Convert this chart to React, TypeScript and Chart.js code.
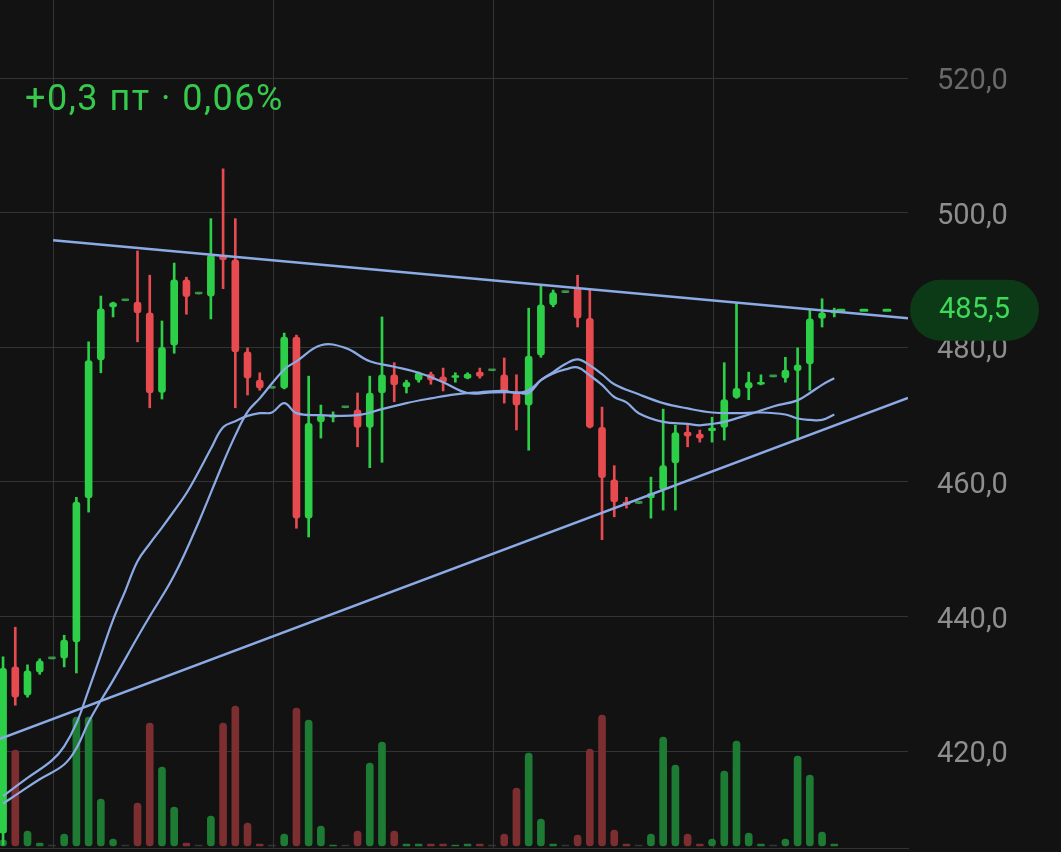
import React, { useEffect, useRef } from 'react';
import { Chart, registerables } from 'chart.js';

Chart.register(...registerables);

// ---- Candles (index = position on the time axis) ----
const opens = [407.8, 432.5, 428.3, 431.7, 433.7, 433.8, 436.2, 457.6, 478.1, 486.0, 486.9, 486.7, 485.1, 473.3, 480.3, 490.0, 487.9, 487.6, 493.6, 493.0, 479.3, 475.1, 473.9, 473.9, 481.5, 454.6, 468.9, 469.6, 471.0, 470.7, 468.1, 473.2, 475.9, 474.1, 475.1, 476.0, 475.6, 475.5, 475.4, 476.3, 476.5, 475.9, 473.2, 471.4, 478.8, 486.3, 488.1, 488.8, 484.3, 468.1, 460.3, 457.0, 456.8, 457.6, 458.8, 462.8, 467.4, 467.1, 467.6, 468.1, 472.5, 473.9, 474.5, 475.6, 475.4, 476.5, 477.5, 484.3, 485.1];
const highs = [434.0, 438.4, 432.8, 433.7, 433.7, 437.2, 457.7, 480.8, 487.6, 486.7, 486.9, 494.3, 490.7, 483.9, 492.5, 490.4, 487.9, 499.1, 506.5, 499.1, 479.9, 476.2, 473.9, 482.1, 481.8, 475.7, 471.4, 470.4, 471.0, 473.2, 475.7, 484.5, 477.7, 475.1, 476.3, 476.3, 476.9, 476.2, 476.2, 476.9, 476.5, 478.4, 475.9, 485.8, 489.2, 488.5, 488.1, 490.7, 488.5, 471.1, 462.4, 457.7, 456.8, 460.7, 470.8, 468.4, 468.4, 467.7, 469.6, 477.7, 486.6, 476.3, 475.9, 475.6, 478.5, 479.9, 485.5, 487.2, 485.8];
const lows = [406.0, 426.8, 428.0, 431.4, 433.7, 432.5, 431.6, 455.5, 476.2, 484.5, 486.9, 480.8, 471.0, 472.3, 479.1, 484.9, 487.9, 484.2, 488.7, 471.0, 472.9, 473.6, 473.9, 473.8, 453.1, 451.8, 466.5, 468.9, 471.0, 465.2, 462.1, 462.9, 471.9, 473.2, 474.8, 474.5, 473.5, 474.8, 475.3, 475.4, 476.5, 471.7, 467.7, 464.7, 478.5, 486.0, 488.1, 483.0, 468.0, 451.4, 454.8, 456.1, 456.8, 454.6, 455.8, 455.8, 465.2, 465.9, 465.9, 466.2, 472.4, 472.2, 474.4, 475.6, 474.8, 466.2, 473.6, 483.0, 484.5];
const closes = [432.3, 428.0, 431.9, 433.4, 433.7, 436.5, 457.0, 478.0, 485.7, 486.6, 486.9, 485.1, 473.2, 480.0, 490.0, 487.5, 487.9, 493.7, 493.0, 479.3, 475.4, 473.9, 473.9, 481.5, 454.6, 468.7, 469.9, 469.9, 471.0, 468.1, 473.2, 475.9, 474.4, 474.8, 476.2, 475.1, 474.8, 475.6, 476.0, 475.7, 476.5, 473.2, 471.4, 478.7, 486.3, 488.1, 488.1, 484.3, 468.1, 460.6, 457.0, 456.6, 456.8, 458.3, 462.4, 467.3, 466.8, 466.5, 468.0, 472.2, 473.9, 474.8, 474.8, 475.6, 476.6, 477.4, 484.2, 485.1, 485.5];
const volumes = [6, 96, 15, 3, 1, 12, 129, 129, 47, 7, 1, 43, 123, 79, 39, 3, 1, 30, 123, 140, 23, 2, 1, 12, 138, 126, 20, 1, 1, 15, 83, 104, 15, 2, 2, 2, 2, 1, 2, 2, 1, 12, 58, 93, 27, 2, 1, 11, 97, 131, 16, 2, 1, 12, 109, 81, 12, 2, 7, 75, 105, 13, 2, 1, 7, 90, 71, 14, 2];

// ---- Moving averages (candle index, value) ----
const maFastIdx = [0, 1, 3, 5, 6, 7, 8, 9, 11, 12, 14, 16, 18, 19, 20, 21, 23, 24, 26, 28, 30, 32, 34, 36, 38, 40, 42, 43, 44, 45, 46, 47, 48, 49, 50, 51, 52, 54, 56, 57, 58, 59, 61, 63, 65, 66, 67, 68];
const maFastVal = [412.2, 413.4, 415.8, 418.0, 420.4, 424.3, 427.5, 430.5, 436.9, 440.0, 446.1, 454.0, 462.8, 466.9, 470.4, 472.4, 476.7, 477.9, 480.3, 479.9, 477.9, 477.1, 476.2, 474.8, 473.2, 473.3, 473.3, 473.2, 475.1, 476.1, 476.7, 477.0, 475.8, 474.4, 472.6, 471.8, 470.2, 468.9, 468.6, 468.4, 468.6, 468.9, 470.0, 471.2, 472.1, 473.2, 474.4, 475.4];
const maSlowIdx = [0, 2, 4, 5, 6, 7, 8, 9, 10, 11, 12, 13, 14, 15, 16, 17, 18, 19, 20, 21, 22, 23, 24, 26, 29, 31, 33, 35, 37, 39, 41, 42, 43, 44, 45, 46, 47, 48, 49, 50, 52, 54, 56, 58, 60, 62, 64, 65, 66, 67, 68];
const maSlowVal = [413.3, 416.0, 418.6, 420.7, 424.1, 429.1, 434.3, 439.5, 443.8, 448.2, 450.8, 453.2, 455.7, 458.3, 461.5, 464.9, 468.1, 469.0, 469.8, 470.2, 470.3, 471.7, 470.2, 469.9, 469.9, 470.8, 471.7, 472.4, 473.0, 473.3, 473.5, 473.2, 473.6, 475.1, 476.3, 477.5, 478.2, 477.3, 476.0, 474.5, 473.0, 471.7, 470.9, 470.3, 470.2, 470.3, 470.0, 469.4, 469.2, 469.2, 470.0];

// ---- Trend lines (x in candle index units) ----
const resistanceX = [4.09, 74.03];
const resistanceY = [495.9, 484.3];
const supportX = [-0.25, 74.03];
const supportY = [421.8, 472.45];

// ---- Axes / labels ----
const yTicks = [420, 440, 460, 480, 500, 520];
const yTickLabels = ['420,0', '440,0', '460,0', '480,0', '500,0', '520,0'];
const xGridTicks = [4.1, 22.1, 40.1, 58.1];
const lastPrice = 485.5;
const lastPriceLabel = '485,5';
const priceLineX = [68.3, 72.8];
const changeText = '+0,3 пт · 0,06%';

const X_MIN = -0.25;
const X_MAX = 74.03;
const Y_MIN = 405.59;
const Y_MAX = 531.59;
const VOL_MIN = -2;
const VOL_MAX = 846;

const BG = '#121212';
const GRID = '#333333';
const UP = '#2ecf48';
const DOWN = '#e84b4f';
const DOJI = 'rgba(70, 190, 90, 0.75)';
const VUP = '#1e7b33';
const VDOWN = '#7c2e30';
const VFLAT = '#363636';
const BLUE = '#8cabe6';

const overlay = {
  id: 'overlay',
  beforeDraw(chart: any) {
    const ctx = chart.ctx;
    ctx.save();
    ctx.fillStyle = BG;
    ctx.fillRect(0, 0, chart.width, chart.height);
    ctx.restore();
  },
  afterDraw(chart: any) {
    const ctx = chart.ctx;
    const y = chart.scales.y.getPixelForValue(lastPrice);
    const left = chart.chartArea.right + 2;
    const w = 129;
    const h = 61;
    ctx.save();
    ctx.fillStyle = '#0c3a16';
    ctx.beginPath();
    ctx.roundRect(left, y - h / 2, w, h, h / 2);
    ctx.fill();
    ctx.fillStyle = '#3fd95a';
    ctx.font = '29px Roboto';
    ctx.textAlign = 'center';
    ctx.textBaseline = 'middle';
    ctx.fillText(lastPriceLabel, left + w / 2, y + 1);

    ctx.fillStyle = '#36c94c';
    ctx.font = '36px Roboto';
    try { (ctx as any).letterSpacing = '1.5px'; } catch (e) {}
    ctx.textAlign = 'left';
    ctx.textBaseline = 'alphabetic';
    ctx.fillText(changeText, 25, 110);
    ctx.restore();
  },
};

export default function App() {
  const ref = useRef<HTMLCanvasElement>(null);

  useEffect(() => {
    document.body.style.margin = '0';
    document.body.style.background = BG;
    const idx = opens.map((_, i) => i);
    const candleColor = (i: number) =>
      closes[i] === opens[i] ? DOJI : closes[i] > opens[i] ? UP : DOWN;
    const volColor = (i: number) =>
      closes[i] === opens[i] ? VFLAT : closes[i] > opens[i] ? VUP : VDOWN;

    Chart.defaults.font.family = 'Roboto';

    const chart = new Chart(ref.current!, {
      type: 'bar',
      data: {
        datasets: [
          {
            type: 'line',
            label: 'Сопротивление',
            data: resistanceX.map((x, k) => ({ x, y: resistanceY[k] })),
            borderColor: BLUE,
            borderWidth: 2.5,
            pointRadius: 0,
            order: 1,
          },
          {
            type: 'line',
            label: 'Поддержка',
            data: supportX.map((x, k) => ({ x, y: supportY[k] })),
            borderColor: BLUE,
            borderWidth: 2.5,
            pointRadius: 0,
            order: 1,
          },
          {
            type: 'line',
            label: 'MA быстрая',
            data: maFastIdx.map((x, k) => ({ x, y: maFastVal[k] })),
            borderColor: BLUE,
            borderWidth: 2.2,
            pointRadius: 0,
            tension: 0.4,
            order: 2,
          },
          {
            type: 'line',
            label: 'MA медленная',
            data: maSlowIdx.map((x, k) => ({ x, y: maSlowVal[k] })),
            borderColor: BLUE,
            borderWidth: 2.2,
            pointRadius: 0,
            tension: 0.4,
            order: 2,
          },
          {
            type: 'line',
            label: 'Цена',
            data: priceLineX.map((x) => ({ x, y: lastPrice })),
            borderColor: UP,
            borderWidth: 3,
            borderDash: [6, 17],
            borderCapStyle: 'round',
            pointRadius: 0,
            order: 3,
          },
          {
            type: 'bar',
            label: 'Тело',
            data: idx.map((i) => ({ x: i, y: [opens[i], closes[i]] })),
            backgroundColor: idx.map(candleColor),
            barThickness: 7,
            borderRadius: 3,
            borderSkipped: false,
            minBarLength: 2,
            grouped: false,
            order: 4,
          },
          {
            type: 'bar',
            label: 'Тени',
            data: idx.map((i) => ({ x: i, y: [lows[i], highs[i]] })),
            backgroundColor: idx.map(candleColor),
            barThickness: 2,
            grouped: false,
            order: 5,
          },
          {
            type: 'bar',
            label: 'Объём',
            yAxisID: 'yv',
            data: idx.map((i) => ({ x: i, y: volumes[i] })),
            backgroundColor: idx.map(volColor),
            barThickness: 7,
            borderRadius: 3.5,
            borderSkipped: false,
            grouped: false,
            order: 6,
          },
        ] as any,
      },
      options: {
        animation: false,
        responsive: true,
        maintainAspectRatio: false,
        devicePixelRatio: 1,
        layout: { padding: { left: 0, right: 0, top: 0, bottom: 4 } },
        plugins: { legend: { display: false }, tooltip: { enabled: false } },
        scales: {
          x: {
            type: 'linear',
            min: X_MIN,
            max: X_MAX,
            offset: false,
            afterBuildTicks: (s: any) => {
              s.ticks = xGridTicks.map((v) => ({ value: v }));
            },
            grid: { color: GRID, drawTicks: false, offset: false },
            border: { display: true, color: GRID },
            ticks: { display: false },
          },
          y: {
            position: 'right',
            min: Y_MIN,
            max: Y_MAX,
            afterBuildTicks: (s: any) => {
              s.ticks = yTicks.map((v) => ({ value: v }));
            },
            afterFit: (s: any) => {
              s.width = 153;
              s.paddingTop = 0;
              s.paddingBottom = 0;
            },
            grid: { color: GRID, drawTicks: false },
            border: { display: false },
            ticks: {
              padding: 29,
              labelOffset: 4,
              autoSkip: false,
              font: { family: 'Roboto', size: 29 },
              color: (c: any) => (c.tick && c.tick.value === 520 ? '#6a6a6a' : '#8e8e8e'),
              callback: (v: any) => {
                const k = yTicks.indexOf(Number(v));
                return k >= 0 ? yTickLabels[k] : '';
              },
            },
          },
          yv: {
            display: false,
            min: VOL_MIN,
            max: VOL_MAX,
          },
        },
      } as any,
      plugins: [overlay],
    });
    return () => chart.destroy();
  }, []);

  return (
    <div style={{ position: 'fixed', left: 0, top: 0, width: 1061, height: 852, background: BG }}>
      <canvas ref={ref} />
    </div>
  );
}
